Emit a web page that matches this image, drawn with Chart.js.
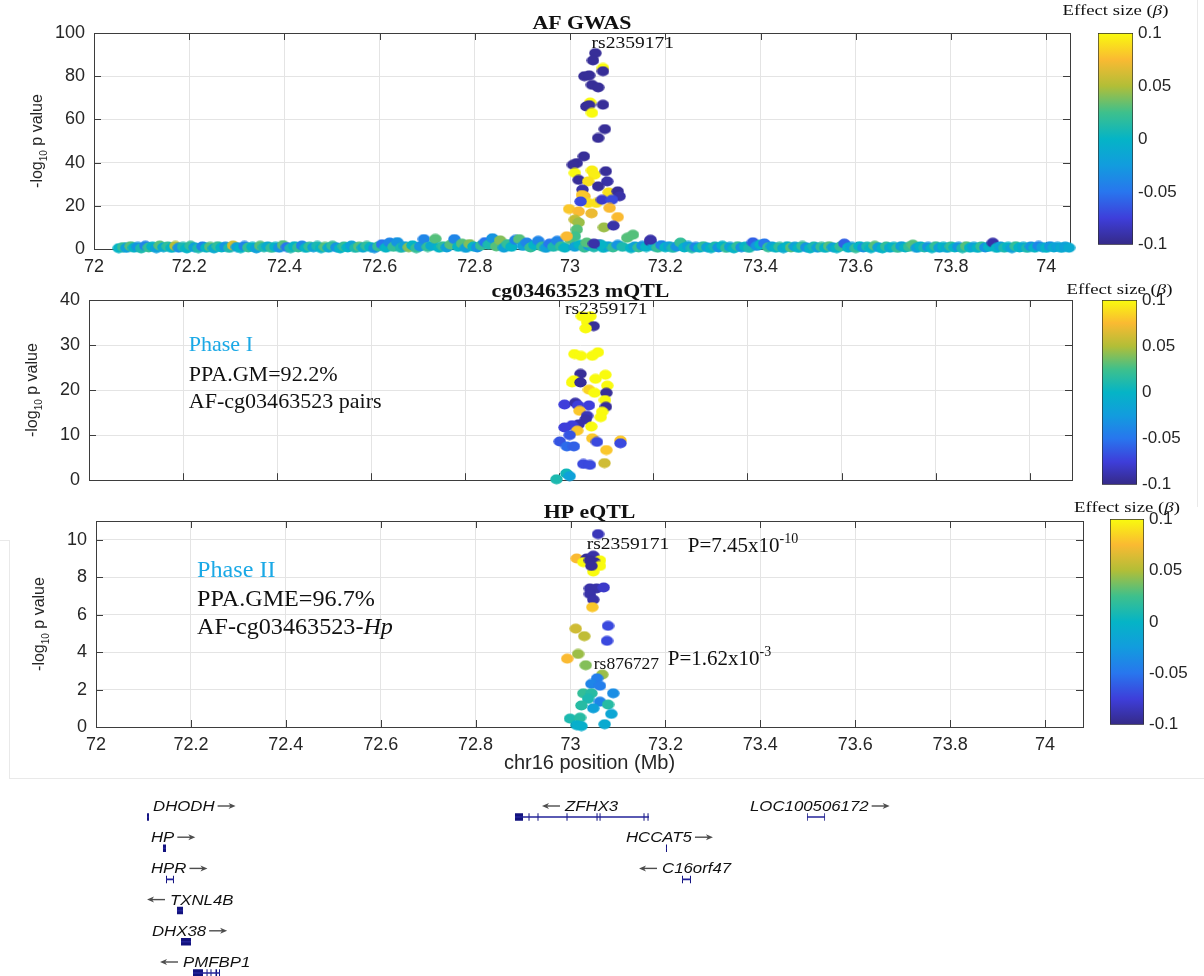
<!DOCTYPE html>
<html>
<head>
<meta charset="utf-8">
<title>AF GWAS, cg03463523 mQTL and HP eQTL on chr16</title>
<script src="https://cdn.jsdelivr.net/npm/chart.js@4.4.1/dist/chart.umd.min.js"></script>
<style>
  html, body { margin: 0; padding: 0; background: #fff; }
  #fig { position: relative; width: 1204px; height: 976px; overflow: hidden; }
  #fig canvas { position: absolute; }
  .edge { position: absolute; background: #e9e9e9; }
</style>
</head>
<body>
<div id="fig">
  <div class="edge" style="left:1197px;top:0;width:1px;height:507px"></div>
  <div class="edge" style="left:9px;top:540px;width:1px;height:238px"></div>
  <div class="edge" style="left:0;top:540px;width:9px;height:1px"></div>
  <div class="edge" style="left:9px;top:778px;width:1195px;height:1px"></div>
  <canvas id="gwas" width="1090" height="280" style="left:0;top:0"></canvas>
  <canvas id="mqtl" width="1090" height="230" style="left:0;top:270px"></canvas>
  <canvas id="eqtl" width="1100" height="280" style="left:0;top:500px"></canvas>
  <canvas id="cb1" width="154" height="260" style="left:1050px;top:0"></canvas>
  <canvas id="cb2" width="154" height="230" style="left:1050px;top:270px"></canvas>
  <canvas id="cb3" width="154" height="240" style="left:1050px;top:500px"></canvas>
  <canvas id="genes" width="1204" height="196" style="left:0;top:780px"></canvas>
</div>
<script>
// ---- AF GWAS: background SNPs along the region (position Mb, -log10 p, beta)
const gwasBgX = [72.052,72.061,72.068,72.077,72.084,72.092,72.099,72.108,72.115,72.123,72.131,72.138,72.146,72.155,72.163,72.171,72.178,72.187,72.195,72.203,
  72.211,72.219,72.228,72.236,72.244,72.252,72.260,72.268,72.276,72.284,72.292,72.300,72.308,72.316,72.324,72.333,72.341,72.349,72.357,72.365,
  72.373,72.381,72.389,72.397,72.405,72.413,72.421,72.429,72.437,72.445,72.453,72.461,72.469,72.477,72.485,72.493,72.501,72.509,72.517,72.525,
  72.533,72.541,72.549,72.557,72.565,72.573,72.581,72.589,72.597,72.605,72.613,72.621,72.629,72.637,72.645,72.653,72.661,72.669,72.677,72.685,
  72.693,72.701,72.709,72.717,72.725,72.733,72.741,72.749,72.757,72.765,72.773,72.781,72.789,72.797,72.805,72.813,72.821,72.829,72.837,72.845,
  72.853,72.861,72.869,72.877,72.885,72.893,72.901,72.909,72.917,72.925,72.933,72.941,72.949,72.957,72.965,72.973,72.981,72.989,73.000,73.010,
  73.020,73.030,73.040,73.050,73.060,73.070,73.080,73.090,73.100,73.110,73.120,73.128,73.136,73.144,73.152,73.160,73.168,73.176,73.184,73.192,
  73.200,73.208,73.216,73.224,73.232,73.240,73.248,73.256,73.264,73.272,73.280,73.288,73.296,73.304,73.312,73.320,73.328,73.336,73.344,73.352,
  73.360,73.368,73.376,73.384,73.392,73.400,73.408,73.416,73.424,73.432,73.440,73.448,73.456,73.464,73.472,73.480,73.488,73.496,73.504,73.512,
  73.520,73.528,73.536,73.544,73.552,73.560,73.568,73.576,73.584,73.592,73.600,73.608,73.616,73.624,73.632,73.640,73.648,73.656,73.664,73.672,
  73.680,73.688,73.696,73.704,73.712,73.720,73.728,73.736,73.744,73.752,73.760,73.768,73.776,73.784,73.792,73.800,73.808,73.816,73.824,73.832,
  73.840,73.848,73.856,73.864,73.872,73.880,73.888,73.896,73.904,73.912,73.920,73.928,73.936,73.944,73.952,73.960,73.968,73.976,73.984,73.992,
  74.000,74.008,74.016,74.024,74.032,74.040,74.048];
const gwasBgY = [0.4,0.9,0.5,1.3,0.6,1.0,0.3,1.5,0.7,1.1,0.4,1.6,0.8,1.2,0.5,1.4,0.6,1.0,0.3,1.5,
  0.8,0.4,1.2,0.6,1.0,0.3,1.3,0.7,1.1,0.5,1.6,0.9,0.4,1.4,0.7,1.0,0.3,1.5,0.8,1.2,
  0.5,1.0,0.6,1.8,0.9,0.4,1.3,0.7,1.6,0.5,1.1,0.8,1.4,0.4,1.0,0.6,1.5,0.8,0.3,1.2,
  0.7,1.6,0.5,1.1,0.6,1.4,0.9,0.4,1.2,2.2,0.6,3.0,1.0,3.2,0.5,1.3,0.8,1.7,0.4,1.2,
  4.6,0.9,1.5,4.7,0.6,1.3,0.7,2.0,4.6,1.0,2.5,0.5,2.3,1.1,0.7,1.6,3.2,2.0,5.0,1.2,
  4.0,0.6,2.3,1.0,4.2,4.6,1.4,3.0,0.7,1.8,3.8,1.1,0.5,2.5,1.0,3.8,1.3,0.6,4.5,1.0,
  2.0,0.6,1.5,0.8,2.2,0.5,1.3,0.7,1.9,1.0,5.2,0.4,1.2,0.7,1.5,0.9,3.5,1.3,0.6,1.8,
  0.8,1.3,0.5,1.1,3.0,0.7,1.4,0.4,1.0,0.6,1.3,0.8,0.4,1.2,0.7,1.5,0.5,1.0,0.3,1.3,
  0.8,1.1,0.5,3.1,1.4,2.0,2.6,0.8,1.2,0.6,1.0,0.4,1.3,0.7,1.1,0.5,1.4,0.8,0.3,1.2,
  0.6,1.0,0.5,1.3,0.8,0.4,1.2,2.5,0.6,1.0,0.4,1.3,0.7,1.1,0.4,1.5,0.8,0.3,1.2,0.6,
  1.0,0.5,1.3,0.7,1.0,2.0,0.5,1.2,0.7,1.0,0.4,1.3,0.6,1.0,0.5,1.2,0.7,1.0,0.4,1.3,
  0.6,1.0,0.5,1.2,0.7,1.0,2.9,0.5,1.2,0.6,1.0,0.4,1.3,0.7,1.0,0.5,1.2,0.6,1.4,0.8,
  0.5,1.3,0.7,1.0,0.5,1.1,0.6];
const gwasBgB = [0,0.02,-0.02,0.03,0,-0.03,0.01,-0.04,0.02,0,-0.02,0.03,-0.01,0.02,0,0.05,-0.03,0.01,0,0.02,
  -0.02,0.01,-0.04,0,0.03,-0.01,0.02,0,-0.03,0.01,0.06,-0.02,0,-0.04,0.02,0,-0.02,0.03,0.01,-0.01,
  0.02,0,-0.03,0.03,-0.05,0.01,0,0.02,-0.04,0,0.02,-0.02,0.01,0,0.03,-0.01,0.02,-0.03,0,0.02,
  0,-0.02,0.01,0.03,-0.01,0.02,0,-0.03,0.02,-0.05,0,-0.04,0.02,-0.03,0.01,-0.02,0.04,0,0.02,-0.03,
  -0.04,0.02,-0.01,0.03,0,0.02,-0.02,0.03,-0.04,0,0.03,-0.02,0.04,0,-0.03,0.02,-0.05,0.01,-0.03,0.03,
  0.04,-0.02,0.02,0,-0.04,0.03,-0.02,-0.04,0.02,0,-0.04,0.02,-0.02,-0.05,0.01,-0.04,0.02,0,0.03,-0.02,
  0,0.02,-0.03,0.01,-0.08,0,-0.02,0.02,-0.03,0.01,0.03,0,-0.02,0.02,-0.03,0,-0.09,-0.01,0.02,-0.04,
  0,-0.02,0.01,-0.03,0.02,0,-0.02,0.01,-0.04,0,0.02,-0.02,0,0.01,-0.03,0,0.02,-0.02,0,0.02,
  -0.03,0,0.01,-0.06,-0.03,0,-0.05,0.02,-0.02,0,0.02,-0.01,0,0.03,-0.02,0,0.02,-0.03,0,0.01,
  -0.02,0.02,0,0.03,-0.02,0,0.02,-0.06,0,-0.02,0.02,0,-0.03,0.01,0,0.03,-0.02,0,0.02,-0.01,
  0,0.02,-0.02,0,0.02,0.03,-0.02,0,0.01,-0.03,0,0.02,-0.02,0,-0.01,0.02,0,-0.03,0.01,0.03,
  0,-0.02,0,0.02,-0.03,0,-0.09,0,-0.02,0.01,0,-0.02,0.02,0,-0.01,0.01,-0.03,0,-0.04,-0.02,
  0,-0.03,-0.01,-0.02,-0.01,-0.02,-0.01];
// ---- AF GWAS: the association peak
const gwasPkX = [73.053,73.048,73.069,73.069,73.030,73.040,73.046,73.059,73.042,73.034,73.040,73.046,73.069,73.073,73.059,73.029,73.014,73.006,73.010,73.018,
  73.046,73.051,73.038,73.075,73.078,73.026,73.059,73.081,73.100,73.104,73.030,73.025,73.038,73.055,73.022,73.067,73.088,73.083,72.998,73.018,
  73.045,73.100,73.010,73.018,73.071,73.091,73.014,73.010,72.993,73.132,73.169,73.035,73.065,73.050];
const gwasPkY = [90.7,87.3,83.8,82.3,80.0,80.4,76.0,74.8,67.8,66.0,66.6,63.0,66.8,55.5,51.4,42.9,39.8,39.0,35.2,32.0,
  36.4,34.4,31.3,36.0,31.3,27.5,29.0,26.2,26.7,24.4,24.4,25.0,21.3,21.3,22.0,22.8,22.8,19.0,18.5,17.4,
  16.5,14.8,13.6,12.3,10.0,10.8,9.0,5.9,5.9,6.6,4.3,3.0,2.0,2.5];
const gwasPkB = [-0.095,-0.095,0.1,-0.095,-0.095,-0.095,-0.095,-0.095,0.1,-0.095,-0.095,0.1,-0.095,-0.095,-0.095,-0.095,-0.095,-0.095,0.1,-0.095,
  0.095,0.095,0.09,-0.095,-0.09,-0.09,-0.095,0.09,-0.095,-0.09,0.075,0.08,0.09,0.09,-0.07,-0.08,-0.07,0.075,0.08,0.075,
  0.07,0.075,0.055,0.045,0.045,-0.09,0.03,0.025,0.075,0.03,-0.09,0.03,0,-0.09];

// ---- cg03463523 mQTL
const mqtlX = [73.048,73.066,73.059,73.073,73.056,73.032,73.046,73.070,73.082,73.045,73.031,73.027,73.045,73.077,73.098,73.102,73.063,73.075,73.100,73.097,
  73.099,73.091,73.088,73.011,73.034,73.040,73.063,73.043,73.059,73.056,73.041,73.027,73.011,73.068,73.038,73.022,73.001,73.016,73.031,73.070,
  73.080,73.130,73.130,73.100,73.051,73.065,73.096,73.015,73.022,72.994];
const mqtlY = [36.4,36.4,35.1,34.2,33.7,28.0,27.6,27.6,28.4,23.6,22.2,21.7,21.7,22.5,23.4,21.0,20.1,19.4,19.4,17.8,
  16.3,15.2,14.0,16.8,17.2,16.6,16.6,15.4,14.3,13.5,12.4,12.2,11.7,11.9,11.0,10.0,8.6,7.5,7.5,9.3,
  8.5,8.8,8.2,6.7,3.6,3.4,3.8,1.5,0.9,0.2];
const mqtlB = [0.1,0.1,0.1,-0.095,0.1,0.1,0.1,0.1,0.1,-0.095,0.1,0.1,-0.095,0.1,0.1,0.1,0.085,0.1,-0.095,0.1,
  -0.095,0.1,0.1,-0.075,-0.09,-0.075,-0.075,0.08,-0.085,-0.09,-0.09,-0.075,-0.075,0.1,0.08,-0.065,-0.065,-0.055,-0.06,0.08,
  -0.07,0.08,-0.07,0.08,-0.07,-0.07,0.06,0.005,-0.02,0.01];

// ---- HP eQTL
const eqtlX = [73.058,73.013,73.034,73.048,73.062,73.027,73.051,73.041,73.062,73.048,73.044,73.041,73.055,73.070,73.041,73.048,73.046,73.079,73.011,73.029,
  73.077,73.016,72.993,73.032,73.067,73.056,73.044,73.062,73.027,73.044,73.090,73.037,73.062,73.079,73.023,73.048,73.086,72.999,73.020,73.013,
  73.023,73.072];
const eqtlY = [10.3,9.0,9.0,9.15,8.9,8.8,8.8,8.9,8.6,8.3,8.6,7.4,7.4,7.45,7.1,6.8,6.4,5.4,5.25,4.85,
  4.6,3.9,3.65,3.3,2.8,2.6,2.3,2.2,1.8,1.8,1.8,1.5,1.35,1.2,1.15,1.0,0.7,0.45,0.5,0.1,
  0.05,0.15];
const eqtlB = [-0.085,0.075,-0.095,-0.09,0.1,0.1,-0.095,-0.095,0.1,0.1,-0.095,-0.09,-0.09,-0.08,-0.09,-0.09,0.08,-0.07,0.06,0.055,
  -0.07,0.045,0.075,0.04,0.045,-0.045,-0.04,-0.045,0.02,0.015,-0.035,0.01,-0.04,0.015,0.015,-0.02,-0.015,0.01,0.015,-0.005,
  -0.005,-0.01];

// ---- gene track (Mb)
const geneNames  = ['DHODH','HP','HPR','TXNL4B','DHX38','PMFBP1','ZFHX3','HCCAT5','C16orf47','LOC100506172'];
const geneStart  = [72.0377,72.0711,72.0774,72.1004,72.1088,72.1339,72.8075,73.1234,73.1569,73.4184];
const geneEnd    = [72.0418,72.0774,72.0941,72.1130,72.1297,72.1904,73.0879,73.1255,73.1757,73.4561];
const geneRow    = [0,1,2,3,4,5,0,1,2,0];
const geneStrand = [1,1,1,-1,1,-1,-1,1,-1,1];
const geneLabelX = [72.0502,72.0460,72.0460,72.0858,72.0481,72.1130,72.9121,73.0397,73.1151,73.2992];
const exonStart = [72.0377,72.0711,72.0774,72.0920,72.1004,72.1088,72.1339,72.1622,72.1705,72.1810,72.1883,
  72.8075,72.8358,72.8546,72.9153,72.9781,72.9844,73.0764,73.0848,73.1234,73.1569,73.1736,73.4184,73.4545];
const exonEnd   = [72.0418,72.0774,72.0795,72.0941,72.1130,72.1297,72.1548,72.1643,72.1726,72.1842,72.1904,
  72.8243,72.8379,72.8567,72.9174,72.9802,72.9865,73.0785,73.0869,73.1255,73.1590,73.1757,73.4200,73.4561];
const exonRow   = [0,1,2,2,3,4,5,5,5,5,5,0,0,0,0,0,0,0,0,1,2,2,0,0];

// ---- colour scale (beta from -0.1 to 0.1)
const betaRange = [-0.1, 0.1];
const betaTicks = [-0.1, -0.05, 0, 0.05, 0.1];
const parulaStops = [[0,53,42,135],[0.125,62,62,218],[0.25,40,118,238],[0.375,18,156,222],[0.5,5,180,198],
  [0.625,62,192,140],[0.75,178,190,55],[0.875,250,186,50],[1,249,251,14]];

const SERIF = '"Liberation Serif", "Times New Roman", serif';
const SANS = '"Liberation Sans", Arial, sans-serif';
Chart.defaults.font.family = SANS;

function colorFor(b) {
  let t = (b - betaRange[0]) / (betaRange[1] - betaRange[0]);
  t = Math.max(0, Math.min(1, t));
  for (let i = 1; i < parulaStops.length; i++) {
    const p = parulaStops[i - 1], q = parulaStops[i];
    if (t <= q[0]) {
      const f = (t - p[0]) / (q[0] - p[0]);
      const c = [1, 2, 3].map(k => Math.round(p[k] + (q[k] - p[k]) * f));
      return 'rgb(' + c.join(',') + ')';
    }
  }
  return 'rgb(249,251,14)';
}

// slightly wide dots, as in the original figure
const dotCache = {};
function dot(color) {
  if (!dotCache[color]) {
    const c = document.createElement('canvas');
    c.width = 13; c.height = 11;
    const g = c.getContext('2d');
    g.fillStyle = color;
    g.beginPath(); g.ellipse(6.5, 5.5, 6.2, 4.9, 0, 0, Math.PI * 2); g.fill();
    dotCache[color] = c;
  }
  return dotCache[color];
}

function fontOf(kind, size, fam) {
  const s = (kind === 'sup' || kind === 'sub') ? Math.round(size * 0.65) : size;
  const st = kind === 'i' ? 'italic ' : kind === 'b' ? 'bold ' : '';
  return st + s + 'px ' + fam;
}
// draws text runs; y is the middle of the normal text
function drawRuns(ctx, runs, x, y, o) {
  const size = o.size, fam = o.fam || SERIF, sx = o.sx || 1;
  ctx.save();
  ctx.textBaseline = 'alphabetic'; ctx.textAlign = 'left';
  let w = 0;
  runs.forEach(([t, k]) => { ctx.font = fontOf(k, size, fam); w += ctx.measureText(t).width; });
  ctx.translate(x, y);
  if (o.rot) ctx.rotate(o.rot);
  ctx.scale(sx, 1);
  let cx = o.align === 'center' ? -w / 2 : 0;
  runs.forEach(([t, k]) => {
    ctx.font = fontOf(k, size, fam);
    ctx.fillStyle = o.color || '#111';
    const dy = k === 'sup' ? -size * 0.42 : k === 'sub' ? size * 0.32 : 0;
    ctx.fillText(t, cx, size * 0.35 + dy);
    cx += ctx.measureText(t).width;
  });
  ctx.restore();
  return w * sx;
}

// box with inward ticks, under the points
const framePlugin = {
  id: 'frame',
  beforeDatasetsDraw(chart) {
    const {ctx, chartArea: a} = chart;
    const xs = chart.scales.x, ys = chart.scales.y;
    ctx.save();
    ctx.strokeStyle = '#3d3d3d'; ctx.lineWidth = 1;
    ctx.strokeRect(Math.round(a.left) + 0.5, Math.round(a.top) + 0.5, Math.round(a.width), Math.round(a.height));
    ctx.beginPath();
    xs.ticks.forEach(t => {
      const px = Math.round(xs.getPixelForValue(t.value)) + 0.5;
      ctx.moveTo(px, a.top); ctx.lineTo(px, a.top + 7);
      ctx.moveTo(px, a.bottom); ctx.lineTo(px, a.bottom - 7);
    });
    ys.ticks.forEach(t => {
      const py = Math.round(ys.getPixelForValue(t.value)) + 0.5;
      ctx.moveTo(a.left, py); ctx.lineTo(a.left + 7, py);
      ctx.moveTo(a.right, py); ctx.lineTo(a.right - 7, py);
    });
    ctx.stroke();
    ctx.restore();
  }
};

const notesPlugin = {
  id: 'notes',
  afterDatasetsDraw(chart, args, o) {
    const {ctx, chartArea: a} = chart;
    const xs = chart.scales.x, ys = chart.scales.y;
    if (o.title) drawRuns(ctx, [[o.title, 'b']], (a.left + a.right) / 2, a.top - o.titleOff, {size: 19, sx: 1.15, align: 'center'});
    if (o.yTitle) drawRuns(ctx, [['-log', 'n'], ['10', 'sub'], [' p value', 'n']], a.left - 58, (a.top + a.bottom) / 2,
      {size: 16, fam: SANS, rot: -Math.PI / 2, align: 'center', color: '#262626'});
    if (o.cbTitle) drawRuns(ctx, [['Effect size (', 'n'], ['\u03b2', 'i'], [')', 'n']], (a.left + a.right) / 2, a.top - o.cbTitle,
      {size: 15, sx: 1.25, align: 'center'});
    (o.items || []).forEach(it => drawRuns(ctx, it.runs, xs.getPixelForValue(it.x), ys.getPixelForValue(it.y),
      {size: it.size, sx: it.sx || 1.1, color: it.color}));
  }
};

function makePanel(id, xArr, yArr, bArr, opt) {
  const pts = xArr.map((x, i) => ({x: x, y: yArr[i]}));
  return new Chart(document.getElementById(id), {
    type: 'scatter',
    data: {datasets: [{
      data: pts,
      pointStyle: c => dot(colorFor(bArr[c.dataIndex])),
      pointRadius: 6,
      clip: 10
    }]},
    options: {
      responsive: false, animation: false, devicePixelRatio: 1,
      layout: {padding: opt.pad},
      events: [],
      plugins: {legend: {display: false}, tooltip: {enabled: false}, notes: opt.notes},
      scales: {
        x: {
          type: 'linear', min: 72, max: opt.xMax,
          ticks: {stepSize: 0.2, includeBounds: false, display: opt.xLabels, padding: 7, color: '#262626',
            font: {size: 18}, maxRotation: 0, autoSkip: false, callback: v => String(+v.toFixed(1))},
          grid: {color: '#e4e4e4', drawTicks: false},
          border: {display: false},
          title: opt.xTitle ? {display: true, text: opt.xTitle, color: '#262626', font: {size: 20}, padding: {top: 0, bottom: 5}} : {display: false},
          afterFit: s => { s.height = opt.xH; }
        },
        y: {
          min: 0, max: opt.yMax,
          ticks: {stepSize: opt.yStep, includeBounds: false, padding: 9, color: '#262626', font: {size: 18}},
          grid: {color: '#e4e4e4', drawTicks: false},
          border: {display: false},
          afterFit: s => { s.width = opt.yW; }
        }
      }
    },
    plugins: [framePlugin, notesPlugin]
  });
}

makePanel('gwas', gwasBgX.concat(gwasPkX), gwasBgY.concat(gwasPkY), gwasBgB.concat(gwasPkB), {
  pad: {left: 0, right: 20, top: 33, bottom: 0}, yW: 94, xH: 31, xMax: 74.05, yMax: 100, yStep: 20, xLabels: true,
  notes: {title: 'AF GWAS', titleOff: 11, yTitle: true, items: [
    {x: 73.045, y: 95.8, size: 17, sx: 1.15, runs: [['rs2359171', 'n']]}
  ]}
});

makePanel('mqtl', mqtlX, mqtlY, mqtlB, {
  pad: {left: 0, right: 18, top: 30, bottom: 0}, yW: 89, xH: 9, xMax: 74.09, yMax: 40, yStep: 10, xLabels: false,
  notes: {title: 'cg03463523 mQTL', titleOff: 10, yTitle: true, items: [
    {x: 73.012, y: 38.3, size: 17, sx: 1.15, runs: [['rs2359171', 'n']]},
    {x: 72.212, y: 30.2, size: 21, sx: 1.05, color: '#1ba9e6', runs: [['Phase I', 'n']]},
    {x: 72.212, y: 23.7, size: 21, sx: 1.05, runs: [['PPA.GM=92.2%', 'n']]},
    {x: 72.212, y: 17.6, size: 21, sx: 1.05, runs: [['AF-cg03463523 pairs', 'n']]}
  ]}
});

makePanel('eqtl', eqtlX, eqtlY, eqtlB, {
  pad: {left: 0, right: 17, top: 21, bottom: 0}, yW: 96, xH: 53, xMax: 74.08, yMax: 11, yStep: 2, xLabels: true,
  xTitle: 'chr16 position (Mb)',
  notes: {title: 'HP eQTL', titleOff: 10, yTitle: true, items: [
    {x: 73.034, y: 9.8, size: 17, sx: 1.15, runs: [['rs2359171', 'n']]},
    {x: 73.247, y: 9.75, size: 21, sx: 1.0, runs: [['P=7.45x10', 'n'], ['-10', 'sup']]},
    {x: 73.049, y: 3.4, size: 17, sx: 1.03, runs: [['rs876727', 'n']]},
    {x: 73.205, y: 3.72, size: 21, sx: 1.0, runs: [['P=1.62x10', 'n'], ['-3', 'sup']]},
    {x: 72.213, y: 8.46, size: 23, sx: 1.05, color: '#1ba9e6', runs: [['Phase II', 'n']]},
    {x: 72.213, y: 6.9, size: 23, sx: 1.05, runs: [['PPA.GME=96.7%', 'n']]},
    {x: 72.213, y: 5.4, size: 23, sx: 1.05, runs: [['AF-cg03463523-', 'n'], ['Hp', 'i']]}
  ]}
});

function cbGradient(chart) {
  const a = chart.chartArea;
  if (!a) return colorFor(0);
  const g = chart.ctx.createLinearGradient(0, a.bottom, 0, a.top);
  parulaStops.forEach(s => g.addColorStop(s[0], 'rgb(' + s[1] + ',' + s[2] + ',' + s[3] + ')'));
  return g;
}

function makeColorbar(id, pad, axisW, titleOff) {
  return new Chart(document.getElementById(id), {
    type: 'bar',
    data: {labels: ['beta'], datasets: [{
      data: [betaRange.slice()],
      backgroundColor: c => cbGradient(c.chart),
      borderColor: '#2e2e2e', borderWidth: 1, borderSkipped: false,
      barPercentage: 1, categoryPercentage: 1
    }]},
    options: {
      responsive: false, animation: false, devicePixelRatio: 1, events: [],
      layout: {padding: pad},
      plugins: {legend: {display: false}, tooltip: {enabled: false}, notes: {cbTitle: titleOff}},
      scales: {
        x: {display: false},
        y: {
          position: 'right', min: betaRange[0], max: betaRange[1],
          afterBuildTicks: s => { s.ticks = betaTicks.map(v => ({value: v})); },
          ticks: {padding: 5, color: '#262626', font: {size: 17}, callback: v => String(+(+v).toFixed(2))},
          grid: {display: false, drawTicks: false},
          border: {display: false},
          afterFit: s => { s.width = axisW; }
        }
      }
    },
    plugins: [notesPlugin]
  });
}

makeColorbar('cb1', {left: 48, right: 0, top: 33, bottom: 12}, 71, 23);
makeColorbar('cb2', {left: 52, right: 0, top: 30, bottom: 8}, 67, 11);
makeColorbar('cb3', {left: 60, right: 0, top: 19, bottom: 15}, 60, 12);

// ---- gene track
function arrow(ctx, x0, x1, y) {
  const dir = Math.sign(x1 - x0);
  ctx.save();
  ctx.strokeStyle = '#4d4d4d'; ctx.fillStyle = '#4d4d4d'; ctx.lineWidth = 1.4;
  ctx.beginPath(); ctx.moveTo(x0, y); ctx.lineTo(x1 - dir * 4, y); ctx.stroke();
  ctx.beginPath();
  ctx.moveTo(x1, y); ctx.lineTo(x1 - dir * 7, y - 3); ctx.lineTo(x1 - dir * 5, y); ctx.lineTo(x1 - dir * 7, y + 3);
  ctx.closePath(); ctx.fill();
  ctx.restore();
}

const geneLabelPlugin = {
  id: 'geneLabels',
  afterDatasetsDraw(chart) {
    const {ctx} = chart;
    const xs = chart.scales.x, ys = chart.scales.y;
    geneNames.forEach((name, i) => {
      const px = xs.getPixelForValue(geneLabelX[i]);
      const py = ys.getPixelForValue(geneRow[i]) - 11;
      const w = drawRuns(ctx, [[name, 'i']], px, py, {size: 14, fam: SANS, sx: 1.2, color: '#111'});
      if (geneStrand[i] > 0) arrow(ctx, px + w + 3, px + w + 21, py);
      else arrow(ctx, px - 5, px - 23, py);
    });
  }
};

const bodyPts = [], exonPts = [];
geneNames.forEach((n, i) => {
  bodyPts.push({x: geneStart[i], y: geneRow[i]}, {x: geneEnd[i], y: geneRow[i]}, {x: geneEnd[i], y: null});
});
exonStart.forEach((s, i) => {
  exonPts.push({x: s, y: exonRow[i]}, {x: exonEnd[i], y: exonRow[i]}, {x: exonEnd[i], y: null});
});

new Chart(document.getElementById('genes'), {
  type: 'scatter',
  data: {datasets: [
    {data: bodyPts, showLine: true, spanGaps: false, pointRadius: 0, borderColor: '#24249a', borderWidth: 1.6, borderCapStyle: 'butt', clip: false},
    {data: exonPts, showLine: true, spanGaps: false, pointRadius: 0, borderColor: '#12127e', borderWidth: 7.5, borderCapStyle: 'butt', clip: false}
  ]},
  options: {
    responsive: false, animation: false, devicePixelRatio: 1, events: [],
    layout: {padding: {left: 129, right: 119, top: 37, bottom: 3}},
    plugins: {legend: {display: false}, tooltip: {enabled: false}},
    scales: {
      x: {type: 'linear', display: false, min: 72, max: 74},
      y: {display: false, min: 0, max: 5, reverse: true}
    }
  },
  plugins: [geneLabelPlugin]
});
</script>
</body>
</html>
